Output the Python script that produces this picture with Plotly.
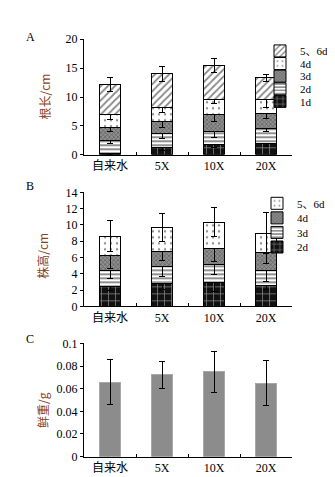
import plotly.graph_objects as go

categories = ["自来水", "5X", "10X", "20X"]

# Panel A: root length (cm), per-stage increments and SDs
a_names = ["1d", "2d", "3d", "4d", "5、6d"]
a_d1 = [0.3, 1.2, 1.8, 2.0]
a_d2 = [2.2, 2.5, 2.2, 2.6]
a_d3 = [2.3, 2.1, 3.0, 2.5]
a_d4 = [2.2, 2.4, 2.5, 2.5]
a_d56 = [5.2, 5.8, 5.9, 3.7]
a_e1 = [0.2, 0.5, 0.6, 0.5]
a_e2 = [0.6, 0.8, 1.0, 0.6]
a_e3 = [0.8, 1.0, 1.2, 0.8]
a_e4 = [0.9, 0.9, 0.7, 1.5]
a_e56 = [1.2, 1.35, 1.2, 0.6]

# Panel B: plant height (cm)
b_names = ["2d", "3d", "4d", "5、6d"]
b_d2 = [2.4, 2.8, 2.9, 2.6]
b_d3 = [2.0, 2.1, 2.3, 1.8]
b_d4 = [1.8, 1.9, 1.9, 2.25]
b_d56 = [2.4, 2.85, 3.25, 2.35]
b_e2 = [0.5, 0.7, 1.1, 0.5]
b_e3 = [1.0, 1.2, 1.3, 1.3]
b_e4 = [1.6, 1.2, 1.6, 1.4]
b_e56 = [1.9, 1.7, 1.75, 2.5]

# Panel C: fresh weight (g)
c_fw = [0.0657, 0.0722, 0.0748, 0.0650]
c_e = [0.020, 0.012, 0.018, 0.020]

W, H = 335, 477
SERIF = "Liberation Serif, Times New Roman, Noto Sans CJK SC, serif"
CJK = "Noto Sans CJK SC"
BROWN = "#8a3f22"

styles = {
    "brick": dict(shape="+", bgcolor="#111111", fgcolor="#ffffff", size=7, solidity=0.2),
    "hstripe": dict(shape="-", bgcolor="#ffffff", fgcolor="#222222", size=4, solidity=0.5),
    "checker": dict(shape="x", bgcolor="#8f8f8f", fgcolor="#2a2a2a", size=3, solidity=0.4),
    "dots": dict(shape=".", bgcolor="#ffffff", fgcolor="#222222", size=6, solidity=0.12),
    "diag": dict(shape="/", bgcolor="#ffffff", fgcolor="#111111", size=5, solidity=0.35),
}

fig = go.Figure()

def add_bar(name, y, err, xa, ya, pat, legend, showlegend=True):
    fig.add_trace(go.Bar(
        x=categories, y=y, name=name, xaxis=xa, yaxis=ya,
        marker=dict(color="white", line=dict(color="black", width=1), pattern=pat),
        error_y=dict(type="data", array=err, color="black", thickness=1, width=3),
        legend=legend, showlegend=showlegend,
    ))

a_vals = [a_d1, a_d2, a_d3, a_d4, a_d56]
a_errs = [a_e1, a_e2, a_e3, a_e4, a_e56]
a_pats = ["brick", "hstripe", "checker", "dots", "diag"]
for i, (n, v, e, p) in enumerate(zip(a_names, a_vals, a_errs, a_pats)):
    add_bar(n, v, e, "x", "y", styles[p], "legend" if i == 0 else f"legend{i+1}")

b_vals = [b_d2, b_d3, b_d4, b_d56]
b_errs = [b_e2, b_e3, b_e4, b_e56]
b_pats = ["brick", "hstripe", "checker", "dots"]
for i, (n, v, e, p) in enumerate(zip(b_names, b_vals, b_errs, b_pats)):
    add_bar(n, v, e, "x2", "y2", styles[p], f"legend{i+6}")

fig.add_trace(go.Bar(
    x=categories, y=c_fw, name="鲜重", xaxis="x3", yaxis="y3",
    marker=dict(color="#8c8c8c", line=dict(color="#a8a8a8", width=1)),
    error_y=dict(type="data", array=c_e, color="black", thickness=1, width=3),
    showlegend=False,
))

xdom = [76 / W, 284 / W]
def ydom(top_px, bot_px):
    return [1 - bot_px / H, 1 - top_px / H]

xbase = dict(type="category", range=[-0.5, 3.5], showline=True, linecolor="black", linewidth=1,
             ticks="inside", tickson="boundaries", ticklen=3, tickcolor="black",
             tickfont=dict(family=SERIF, size=12, color="black"), showgrid=False, zeroline=False,
             domain=xdom, fixedrange=True)
ybase = dict(showline=True, linecolor="black", linewidth=1, ticks="outside", ticklen=3,
             tickcolor="black", tickfont=dict(family=SERIF, size=12, color="black"),
             showgrid=False, zeroline=False, fixedrange=True)

def label(text, xpx, ypx, **kw):
    d = dict(text=text, x=xpx / W, y=1 - ypx / H, xref="paper", yref="paper", showarrow=False,
             xanchor="center", yanchor="middle", font=dict(family=SERIF, size=12, color="black"))
    d.update(kw)
    return d

ytitle_font = dict(family=CJK, size=12, color=BROWN)

layout = dict(
    width=W, height=H, margin=dict(l=0, r=0, t=0, b=0),
    paper_bgcolor="white", plot_bgcolor="white",
    barmode="stack", bargap=0.6,
    font=dict(family=SERIF, size=12, color="black"),
    xaxis=dict(xbase, anchor="y"),
    xaxis2=dict(xbase, anchor="y2"),
    xaxis3=dict(xbase, anchor="y3"),
    yaxis=dict(ybase, anchor="x", domain=ydom(25, 144), range=[0, 20], dtick=5),
    yaxis2=dict(ybase, anchor="x2", domain=ydom(182.7, 300.3), range=[0, 14], dtick=2),
    yaxis3=dict(ybase, anchor="x3", domain=ydom(338.3, 455), range=[0, 0.1], dtick=0.02),
    annotations=[
        label("A", 22, 23),
        label("B", 22, 176),
        label("C", 22, 334),
        label("根长/cm", 37, 84, textangle=-90, font=ytitle_font),
        label("株高/cm", 35, 248, textangle=-90, font=ytitle_font),
        label("鲜重/g", 34, 407, textangle=-90, font=ytitle_font),
    ],
)

leg_common = dict(bgcolor="rgba(0,0,0,0)", borderwidth=0, xanchor="left", yanchor="middle",
                  font=dict(family=SERIF, size=11, color="black"), itemwidth=30)
# A legend rows (1d bottom ... 5、6d top)
a_rows_px = [89.0, 76.0, 63.0, 50.0, 37.0]
for i, ypx in enumerate(a_rows_px):
    key = "legend" if i == 0 else f"legend{i+1}"
    layout[key] = dict(leg_common, x=252 / W, y=1 - ypx / H)
b_rows_px = [239.0, 224.0, 209.0, 194.0]
for i, ypx in enumerate(b_rows_px):
    layout[f"legend{i+6}"] = dict(leg_common, x=249 / W, y=1 - ypx / H)

fig.update_layout(**layout)
fig.write_html("out.html")
